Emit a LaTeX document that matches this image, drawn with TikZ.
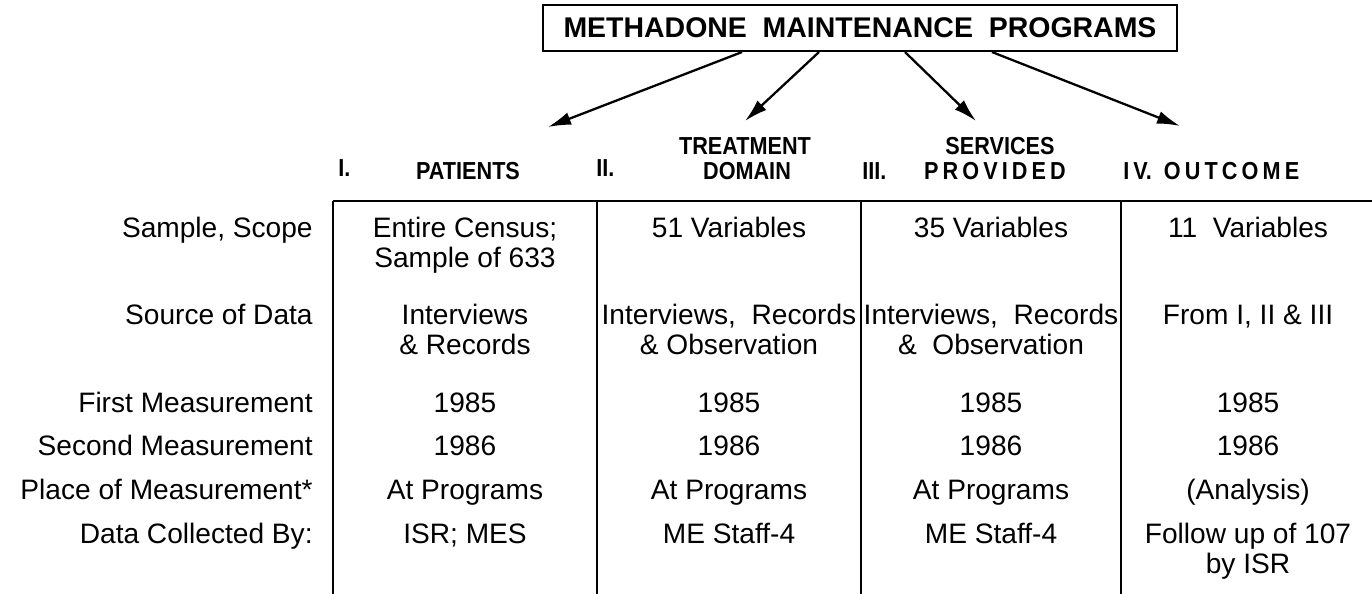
\documentclass[tikz,border=0pt]{standalone}
\usepackage{fontspec}
\setmainfont{Liberation Sans}
\newfontfamily\hdrfont[FakeStretch=0.88]{Liberation Sans}
\usetikzlibrary{arrows.meta}
\begin{document}
\begin{tikzpicture}[x=0.02cm,y=-0.02cm,
  body/.style={font=\fontsize{16}{17}\selectfont, inner sep=0pt, anchor=base},
  lab/.style={font=\fontsize{16}{17}\selectfont, inner sep=0pt, anchor=base east},
  hdr/.style={font=\hdrfont\fontsize{14}{15}\selectfont\bfseries, inner sep=0pt, anchor=base},
  rule/.style={line width=1.3pt},
  arr/.style={line width=1.3pt, -{Latex[length=0.46cm,width=0.26cm]}}]
\useasboundingbox (0,0) rectangle (1372,594);
% title
\node[draw, line width=1.2pt, minimum width=12.68cm, minimum height=0.92cm, inner sep=0pt,
  font=\fontsize{16.2}{18}\selectfont\bfseries] (title) at (860,28) {METHADONE\ \ MAINTENANCE\ \ PROGRAMS};
\path (title.south) ++(-118,0) coordinate (s1);
\path (title.south) ++(-41,0) coordinate (s2);
\path (title.south) ++(45,0) coordinate (s3);
\path (title.south) ++(132,0) coordinate (s4);
\coordinate (t1) at (548,127);
\coordinate (t2) at (745,121);
\coordinate (t3) at (976,121);
\coordinate (t4) at (1180,126);
\draw[arr] (s1) -- (t1);
\draw[arr] (s2) -- (t2);
\draw[arr] (s3) -- (t3);
\draw[arr] (s4) -- (t4);
% headers
\node[hdr, anchor=base west] (h1n) at (338,177) {I.};
\node[hdr] (h1) at (468,180) {PATIENTS};
\node[hdr, anchor=base west] (h2n) at (596,177) {II.};
\node[hdr] (h2a) at (745,155) {TREATMENT};
\node[hdr] (h2b) at (747,180) {DOMAIN};
\node[hdr, anchor=base west] (h3n) at (862,180) {III.};
\node[hdr] (h3a) at (1000,155) {SERVICES};
\node[hdr] (h3b) at (995,180) {P\,R\,O\,V\,I\,D\,E\,D};
\node[hdr, anchor=base west] (h4) at (1123,180) {I\,V.\ \ O\,U\,T\,C\,O\,M\,E};
% table rules
\draw[rule] (333,201) -- (1372,201);
\draw[rule] (333,201) -- (333,594);
\draw[rule] (597,201) -- (597,594);
\draw[rule] (861,201) -- (861,594);
\draw[rule] (1121,201) -- (1121,594);
% row labels
\node[lab] (r1) at (313,238) {Sample, Scope};
\node[lab] (r2) at (313,325) {Source of Data};
\node[lab] (r3) at (313,412) {First Measurement};
\node[lab] (r4) at (313,455) {Second Measurement};
\node[lab] (r5) at (313,499) {Place of Measurement*};
\node[lab] (r6) at (313,543) {Data Collected By:};
% column I
\node[body] (a1) at (465,238) {Entire Census;};
\node[body] (a1b) at (465,268) {Sample of 633};
\node[body] (a2) at (465,325) {Interviews};
\node[body] (a2b) at (465,355) {\& Records};
\node[body] (a3) at (465,412) {1985};
\node[body] (a4) at (465,455) {1986};
\node[body] (a5) at (465,499) {At Programs};
\node[body] (a6) at (465,543) {ISR; MES};
% column II
\node[body] (b1) at (729,238) {51 Variables};
\node[body] (b2) at (729,325) {Interviews,\ \ Records};
\node[body] (b2b) at (729,355) {\& Observation};
\node[body] (b3) at (729,412) {1985};
\node[body] (b4) at (729,455) {1986};
\node[body] (b5) at (729,499) {At Programs};
\node[body] (b6) at (729,543) {ME Staff-4};
% column III
\node[body] (c1) at (991,238) {35 Variables};
\node[body] (c2) at (991,325) {Interviews,\ \ Records};
\node[body] (c2b) at (991,355) {\&\ \ Observation};
\node[body] (c3) at (991,412) {1985};
\node[body] (c4) at (991,455) {1986};
\node[body] (c5) at (991,499) {At Programs};
\node[body] (c6) at (991,543) {ME Staff-4};
% column IV
\node[body] (d1) at (1248,238) {11\ \ Variables};
\node[body] (d2) at (1248,325) {From I, II \& III};
\node[body] (d3) at (1248,412) {1985};
\node[body] (d4) at (1248,455) {1986};
\node[body] (d5) at (1248,499) {(Analysis)};
\node[body] (d6) at (1248,543) {Follow up of 107};
\node[body] (d6b) at (1248,573) {by ISR};
\end{tikzpicture}
\end{document}
